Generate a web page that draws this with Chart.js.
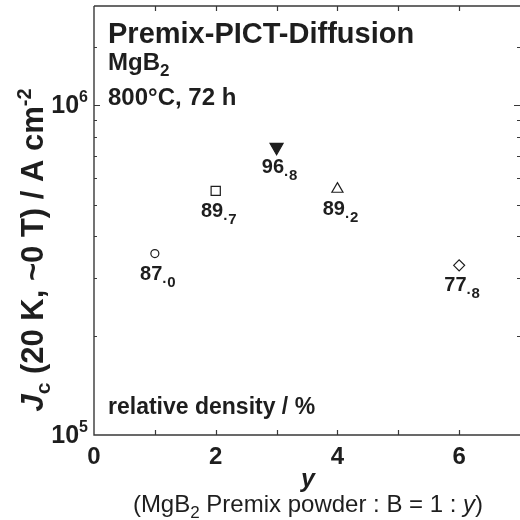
<!DOCTYPE html>
<html>
<head>
<meta charset="utf-8">
<script src="https://cdn.jsdelivr.net/npm/chart.js@4"></script>
<style>
  html, body { margin: 0; padding: 0; background: #fff; overflow: hidden; }
  canvas { display: block; }
</style>
</head>
<body>
<canvas id="c" width="520" height="520"></canvas>
<script>
// Molar ratio y (MgB2 premix : B = 1 : y)
const ratioY = [1, 2, 3, 4, 6];
// Critical current density at 20 K, ~0 T (A/cm^2)
const jcValues = [3.55e5, 5.50e5, 7.46e5, 5.57e5, 3.27e5];
// Relative density of each sample (%)
const densities = ['87.0', '89.7', '96.8', '89.2', '77.8'];
// Axis tick labels
const xTickLabels = [0, 2, 4, 6];
const yDecadeExponents = [5, 6];

// Marker appearance per sample
const markerStyles = ['circle', 'rect', 'triangle', 'triangle', 'rectRot'];
const markerRotation = [0, 0, 180, 0, 0];
const markerRadius = [4, 6.5, 7.5, 6.4, 5.5];
const markerFill = ['#ffffff', '#ffffff', '#1e1e1e', '#ffffff', '#ffffff'];

const INK = '#1e1e1e';
const LINE = '#383838';
const FAMILY = '"Liberation Sans", Arial, Helvetica, sans-serif';

function fontStr(seg) {
  return (seg.style || '') + ' ' + (seg.weight || 'bold') + ' ' + seg.size + 'px ' + FAMILY;
}

// Draws a run of text segments (sub/superscripts via dy) starting at an alignment point.
function drawRich(ctx, segs, x, y, align) {
  ctx.save();
  ctx.textBaseline = 'alphabetic';
  ctx.textAlign = 'left';
  let total = 0;
  const widths = segs.map(s => { ctx.font = fontStr(s); const w = ctx.measureText(s.text).width; total += w; return w; });
  let cx = x;
  if (align === 'center') cx = x - total / 2;
  else if (align === 'right') cx = x - total;
  segs.forEach((s, i) => {
    ctx.font = fontStr(s);
    ctx.fillStyle = s.color || INK;
    ctx.fillText(s.text, cx, y + (s.dy || 0));
    cx += widths[i];
  });
  ctx.restore();
}

const decorPlugin = {
  id: 'decor',
  afterDatasetsDraw(chart) {
    const ctx = chart.ctx;
    const a = chart.chartArea;
    const xs = chart.scales.x;
    const ys = chart.scales.y;

    // frame (left, top, bottom)
    ctx.save();
    ctx.strokeStyle = LINE;
    ctx.lineWidth = 1.4;
    ctx.beginPath();
    ctx.moveTo(a.left, a.top);
    ctx.lineTo(a.right, a.top);
    ctx.moveTo(a.left, a.top);
    ctx.lineTo(a.left, a.bottom);
    ctx.lineTo(a.right, a.bottom);
    ctx.stroke();

    // inward tick marks
    ctx.lineWidth = 1.2;
    ctx.beginPath();
    xs.ticks.forEach(t => {
      if (t.value <= xs.min || t.value >= xs.max) return;
      const px = Math.round(xs.getPixelForValue(t.value)) + 0.5;
      ctx.moveTo(px, a.bottom);
      ctx.lineTo(px, a.bottom - 5);
      ctx.moveTo(px, a.top);
      ctx.lineTo(px, a.top + 5);
    });
    ys.ticks.forEach(t => {
      if (t.value <= ys.min || t.value >= ys.max) return;
      const major = Math.abs(Math.log10(t.value) - Math.round(Math.log10(t.value))) < 1e-9;
      const py = Math.round(ys.getPixelForValue(t.value)) + 0.5;
      ctx.moveTo(a.left, py);
      ctx.lineTo(a.left + (major ? 6 : 3), py);
      ctx.moveTo(a.right, py);
      ctx.lineTo(a.right - (major ? 6 : 3), py);
    });
    ctx.stroke();
    ctx.restore();

    // x tick labels
    xTickLabels.forEach(v => {
      drawRich(ctx, [{ text: String(v), size: 24 }], xs.getPixelForValue(v), a.bottom + 29, 'center');
    });
    // y decade labels
    yDecadeExponents.forEach(e => {
      const py = ys.getPixelForValue(Math.pow(10, e));
      drawRich(ctx, [
        { text: '10', size: 25 },
        { text: String(e), size: 16, dy: -11 }
      ], a.left - 6, py + 8, 'right');
    });

    // density labels under each marker
    ratioY.forEach((xv, i) => {
      const px = xs.getPixelForValue(xv);
      const py = ys.getPixelForValue(jcValues[i]);
      const parts = densities[i].split('.');
      drawRich(ctx, [
        { text: parts[0], size: 20 },
        { text: '\u00B7' + parts[1], size: 15, weight: 'bold', dy: 7 }
      ], px + 3, py + 26, 'center');
    });

    // in-plot annotations
    drawRich(ctx, [{ text: 'Premix-PICT-Diffusion', size: 29 }], 108, 43, 'left');
    drawRich(ctx, [
      { text: 'MgB', size: 24 },
      { text: '2', size: 17, dy: 6 }
    ], 108, 70, 'left');
    drawRich(ctx, [{ text: '800\u00B0C, 72 h', size: 24 }], 108, 105, 'left');
    drawRich(ctx, [{ text: 'relative density / %', size: 23 }], 108, 414, 'left');

    // x axis titles
    drawRich(ctx, [{ text: 'y', size: 25, style: 'italic' }], 308, 487, 'center');
    drawRich(ctx, [
      { text: '(MgB', size: 24, weight: 'normal' },
      { text: '2', size: 17, weight: 'normal', dy: 6 },
      { text: ' Premix powder : B = 1 : ', size: 24, weight: 'normal' },
      { text: 'y', size: 24, weight: 'normal', style: 'italic' },
      { text: ')', size: 24, weight: 'normal' }
    ], 308, 512, 'center');

    // y axis title (rotated)
    ctx.save();
    ctx.translate(43, 250);
    ctx.rotate(-Math.PI / 2);
    drawRich(ctx, [
      { text: 'J', size: 31, style: 'italic' },
      { text: 'c', size: 21, dy: 7 },
      { text: ' (20 K, ~0 T) / A cm', size: 31 },
      { text: '-2', size: 20, dy: -12 }
    ], 0, 0, 'center');
    ctx.restore();
  }
};

const hiddenAxis = {
  display: true,
  ticks: { display: false },
  grid: { display: false, drawTicks: false },
  border: { display: false },
  title: { display: false }
};

new Chart(document.getElementById('c'), {
  type: 'scatter',
  data: {
    datasets: [{
      data: ratioY.map((x, i) => ({ x: x, y: jcValues[i] })),
      pointStyle: markerStyles,
      rotation: markerRotation,
      pointRadius: markerRadius,
      pointBackgroundColor: markerFill,
      pointBorderColor: INK,
      pointBorderWidth: 1.2,
      showLine: false
    }]
  },
  options: {
    responsive: false,
    animation: false,
    events: [],
    layout: { autoPadding: false, padding: { left: 94, top: 6, right: 0, bottom: 85 } },
    plugins: { legend: { display: false }, tooltip: { enabled: false } },
    scales: {
      x: Object.assign({}, hiddenAxis, { type: 'linear', min: 0, max: 7, ticks: { display: false, stepSize: 1 } }),
      y: Object.assign({}, hiddenAxis, { type: 'logarithmic', min: 1e5, max: 2e6 })
    }
  },
  plugins: [decorPlugin]
});
</script>
</body>
</html>
